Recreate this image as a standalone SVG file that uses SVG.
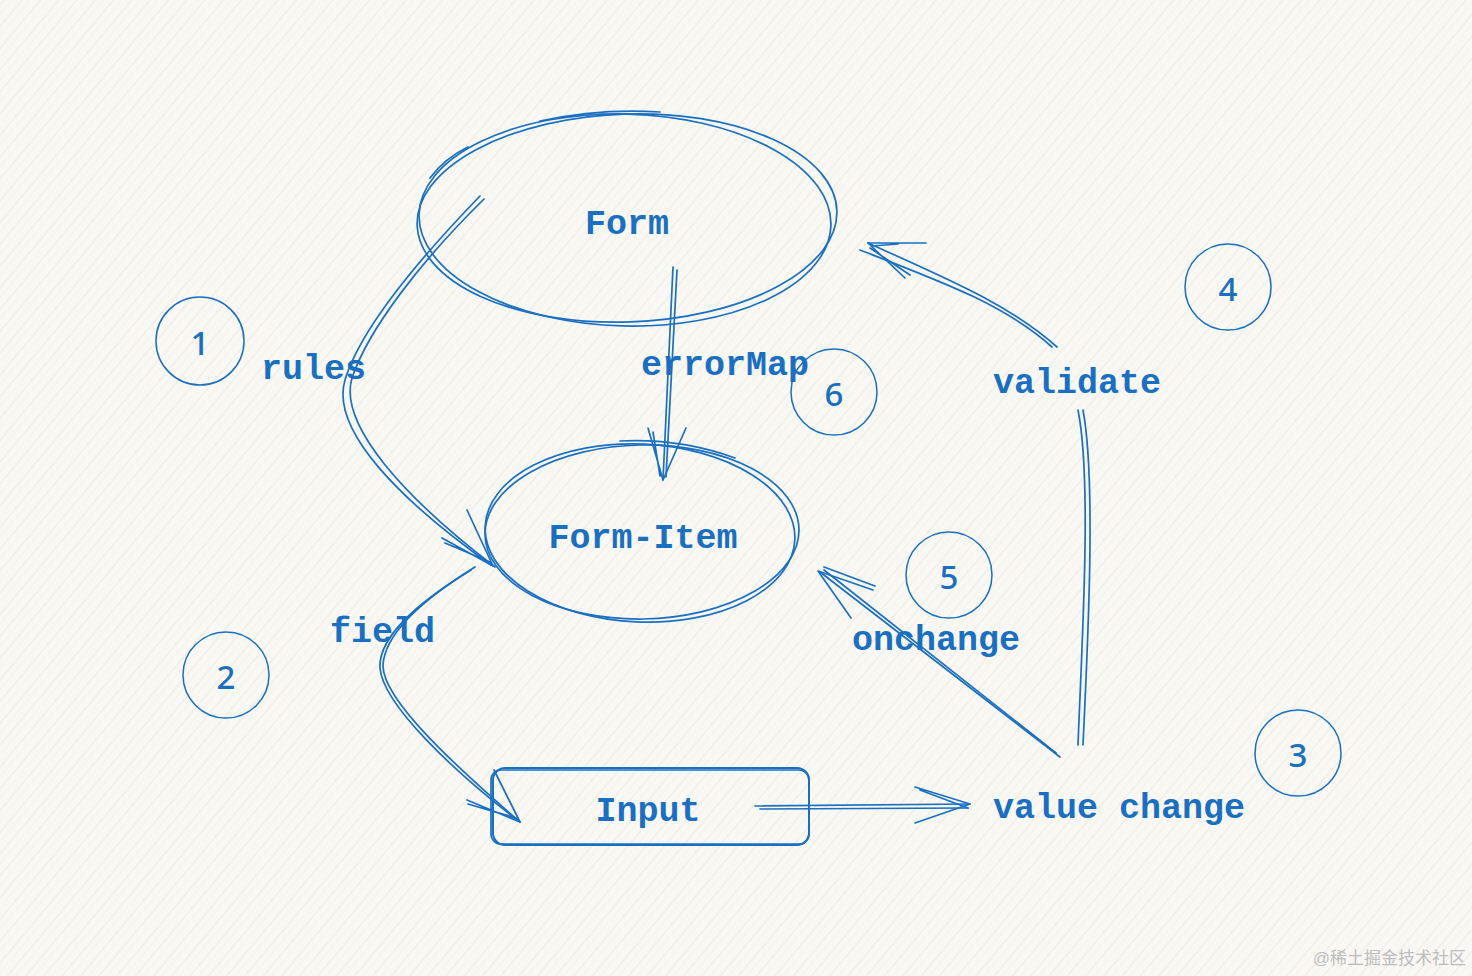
<svg xmlns="http://www.w3.org/2000/svg" width="1472" height="976" viewBox="0 0 1472 976">
<defs>
<pattern id="bg" width="14" height="14" patternUnits="userSpaceOnUse" patternTransform="rotate(-50)">
<rect width="14" height="14" fill="#f9f8f4"/>
<line x1="0" y1="3" x2="14" y2="3" stroke="#eeebe2" stroke-width="1.2"/>
<line x1="0" y1="9" x2="14" y2="9" stroke="#f2efe7" stroke-width="0.8"/>
</pattern>
<style>
.s{fill:none;stroke:#1a6fc0;stroke-width:1.7;stroke-linecap:round;stroke-linejoin:round}
.t{font-family:"Liberation Mono","DejaVu Sans Mono",monospace;font-weight:bold;font-size:35px;fill:#1a6fc0}
.n{font-family:"Noto Sans","Liberation Sans",sans-serif;font-weight:500;font-size:33px;fill:#1a6fc0;text-anchor:middle}
.c{fill:none;stroke:#1a6fc0;stroke-width:1.5}
</style>
</defs>
<rect width="1472" height="976" fill="url(#bg)"/>

<g id="form">
<ellipse class="s" cx="627" cy="218" rx="210" ry="104" transform="rotate(-2 627 218)"/>
<ellipse class="s" cx="625" cy="220" rx="206" ry="106" transform="rotate(1.5 625 220)"/>
<path class="s" d="M540 121 Q600 108 660 112"/>
<path class="s" d="M468 147 Q445 158 430 178"/>
<text class="t" x="627" y="234" text-anchor="middle">Form</text>
</g>

<g id="form-item">
<ellipse class="s" cx="642" cy="532" rx="157" ry="87" transform="rotate(-1 642 532)"/>
<ellipse class="s" cx="640" cy="533" rx="155" ry="89" transform="rotate(2.5 640 533)"/>
<path class="s" d="M620 441 Q680 438 735 458"/>
<text class="t" x="643" y="548" text-anchor="middle">Form-Item</text>
</g>

<g id="input">
<rect class="s" x="493" y="768" width="316" height="77" rx="12" style="stroke-width:2"/>
<rect class="s" x="491" y="770" width="318" height="74" rx="10"/>
<text class="t" x="648" y="821" text-anchor="middle">Input</text>
</g>

<g id="value-change">
<text class="t" x="993" y="818">value change</text>
</g>

<g id="labels">
<text class="t" x="261" y="379">rules</text>
<text class="t" x="641" y="375">errorMap</text>
<text class="t" x="330" y="642">field</text>
<text class="t" x="852" y="650">onchange</text>
<text class="t" x="993" y="393">validate</text>
</g>

<g id="badge-1"><circle class="c" cx="200" cy="341" r="44"/><text class="n" x="200" y="355">1</text></g>
<g id="badge-2"><circle class="c" cx="226" cy="675" r="43"/><text class="n" x="226" y="689">2</text></g>
<g id="badge-3"><circle class="c" cx="1298" cy="753" r="43"/><text class="n" x="1298" y="767">3</text></g>
<g id="badge-4"><circle class="c" cx="1228" cy="287" r="43"/><text class="n" x="1228" y="301">4</text></g>
<g id="badge-5"><circle class="c" cx="949" cy="575" r="43"/><text class="n" x="949" y="589">5</text></g>
<g id="badge-6"><circle class="c" cx="834" cy="392" r="43"/><text class="n" x="834" y="406">6</text></g>

<g id="connectors">
<!-- rules -->
<path class="s" d="M480 196 C420 258 360 330 345 380 C330 430 400 500 491 565"/>
<path class="s" d="M484 199 C420 262 368 330 352 378 C338 425 405 498 495 567"/>
<path class="s" d="M442 538 L493 566 M467 510 L493 566 M445 543 L490 562"/>
<!-- errorMap -->
<path class="s" d="M673 267 L663 480"/>
<path class="s" d="M677 270 L666 477"/>
<path class="s" d="M648 428 L663 480 L686 428 M653 432 L660 476"/>
<!-- field -->
<path class="s" d="M475 567 C430 595 385 630 383 665 C382 700 460 770 520 822"/>
<path class="s" d="M471 570 C425 598 378 635 380 668 C383 705 455 772 517 820"/>
<path class="s" d="M467 800 L520 822 M494 770 L520 822 M468 804 L516 818"/>
<!-- input to value change -->
<path class="s" d="M755 806 L970 804"/>
<path class="s" d="M760 809 L968 808"/>
<path class="s" d="M915 787 L970 804 L915 823 M920 790 L968 808"/>
<!-- onchange -->
<path class="s" d="M1060 757 L820 572"/>
<path class="s" d="M1056 753 L824 570"/>
<path class="s" d="M873 590 L818 571 L851 618 M875 586 L824 567"/>
<!-- validate -->
<path class="s" d="M1078 745 C1082 640 1092 480 1078 410"/>
<path class="s" d="M1083 745 C1088 640 1096 480 1083 410"/>
<path class="s" d="M1057 347 C1010 305 950 280 868 243"/>
<path class="s" d="M1052 347 C1005 305 945 283 860 250"/>
<path class="s" d="M926 243 L868 243 L905 278 M898 244 L872 246 M910 275 L870 248"/>
</g>

<text x="1466" y="964" text-anchor="end" font-family="'Liberation Sans','Noto Sans CJK SC',sans-serif" font-size="17" fill="#bdbdbd">@稀土掘金技术社区</text>
</svg>
